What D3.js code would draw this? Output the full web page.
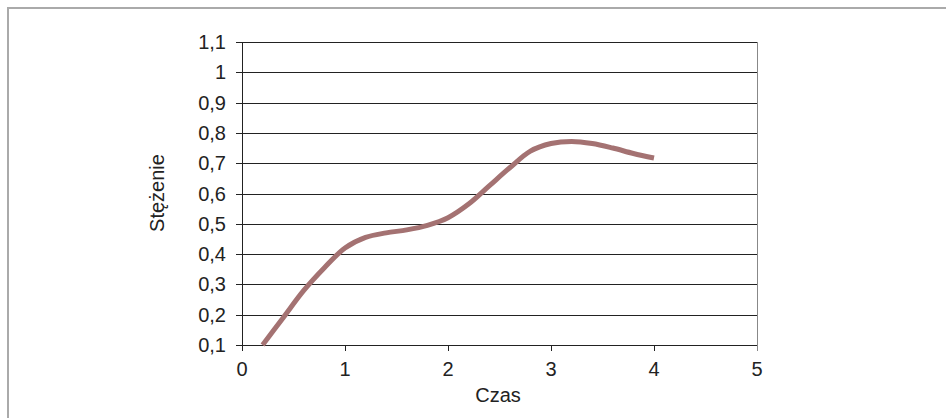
<!DOCTYPE html>
<html><head><meta charset="utf-8">
<script src="https://cdn.jsdelivr.net/npm/d3@7"></script>
<style>html,body{margin:0;padding:0;background:#fff;}svg{display:block;}</style>
</head><body>
<script>
const czas = [0.2,0.4,0.6,0.8,1.0,1.2,1.4,1.6,1.8,2.0,2.2,2.4,2.6,2.8,3.0,3.2,3.4,3.6,3.8,4.0];
const stezenie = [0.10,0.19,0.28,0.355,0.42,0.455,0.47,0.48,0.495,0.52,0.565,0.625,0.685,0.74,0.765,0.772,0.765,0.75,0.732,0.717];
const xTicks = [0,1,2,3,4,5];
const yTicks = [0.1,0.2,0.3,0.4,0.5,0.6,0.7,0.8,0.9,1.0,1.1];

const W=946,H=418;
const svg=d3.select("body").append("svg").attr("width",W).attr("height",H);
svg.append("rect").attr("width",W).attr("height",H).attr("fill","#fff");
// outer frame (top & left visible)
svg.append("line").attr("x1",7).attr("x2",W).attr("y1",8).attr("y2",8).attr("stroke","#aaaaaa").attr("stroke-width",2);
svg.append("line").attr("x1",8).attr("x2",8).attr("y1",7).attr("y2",H).attr("stroke","#aaaaaa").attr("stroke-width",2);

const x=d3.scaleLinear().domain([0,5]).range([242,757]);
const y=d3.scaleLinear().domain([0.1,1.1]).range([345,42]);
const fmt=d=>d3.format("~g")(+d.toFixed(1)).replace(".",",");
const font="'Liberation Sans', Arial, sans-serif";

// gridlines
svg.append("g").selectAll("line").data(yTicks).join("line")
  .attr("x1",236).attr("x2",757).attr("y1",d=>Math.round(y(d))+0.5).attr("y2",d=>Math.round(y(d))+0.5)
  .attr("stroke","#222").attr("stroke-width",1);
// right border of plot
svg.append("line").attr("x1",757.5).attr("x2",757.5).attr("y1",42).attr("y2",351).attr("stroke","#888").attr("stroke-width",1);
// y axis line
svg.append("line").attr("x1",242.5).attr("x2",242.5).attr("y1",42).attr("y2",345).attr("stroke","#222").attr("stroke-width",1);
// x ticks
svg.append("g").selectAll("line").data(xTicks.slice(0,5)).join("line")
  .attr("x1",d=>Math.round(x(d))+0.5).attr("x2",d=>Math.round(x(d))+0.5).attr("y1",345).attr("y2",351)
  .attr("stroke","#222").attr("stroke-width",1);

// y labels
svg.append("g").selectAll("text").data(yTicks).join("text")
  .attr("x",226).attr("y",d=>y(d)+7).attr("text-anchor","end")
  .attr("font-family",font).attr("font-size",20).attr("fill","#222").text(fmt);
// x labels
svg.append("g").selectAll("text").data(xTicks).join("text")
  .attr("x",d=>x(d)).attr("y",376).attr("text-anchor","middle")
  .attr("font-family",font).attr("font-size",20).attr("fill","#222").text(fmt);

svg.append("text").attr("x",498).attr("y",402).attr("text-anchor","middle")
  .attr("font-family",font).attr("font-size",20).attr("fill","#222").text("Czas");
svg.append("text").attr("transform","translate(164,193) rotate(-90)").attr("text-anchor","middle")
  .attr("font-family",font).attr("font-size",20).attr("fill","#222").text("Stężenie");

const data=czas.map((c,i)=>[c,stezenie[i]]);
svg.append("path").datum(data)
  .attr("d",d3.line().x(d=>x(d[0])).y(d=>y(d[1])).curve(d3.curveCatmullRom.alpha(0.5)))
  .attr("fill","none").attr("stroke","#a47272").attr("stroke-width",5);
</script>
</body></html>
